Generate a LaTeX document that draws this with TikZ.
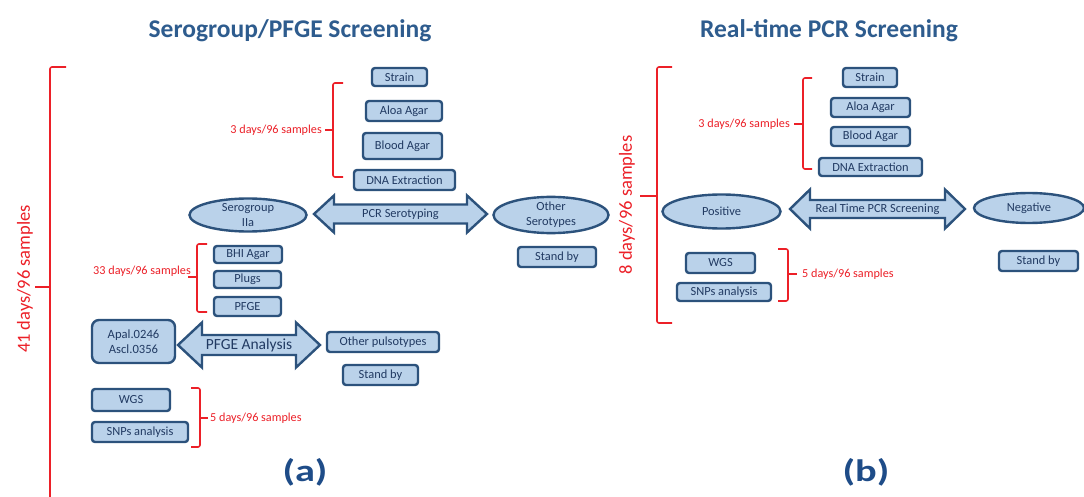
\documentclass[tikz,border=0pt]{standalone}
\usepackage{fontspec}
\setmainfont{Carlito}
\usetikzlibrary{shapes.geometric}
\definecolor{bfill}{RGB}{186,210,234}
\definecolor{bdraw}{RGB}{44,82,124}
\definecolor{btext}{RGB}{33,58,98}
\definecolor{ttl}{RGB}{46,92,142}
\definecolor{lbl}{RGB}{30,76,136}
\definecolor{rd}{RGB}{236,32,40}
\newcommand{\fs}[1]{\fontsize{#1}{#1}\selectfont}
\tikzset{
  box/.style={draw=bdraw, fill=bfill, line width=2.4pt, rounded corners=3pt,
    text=btext, font=\fs{12.4}, inner sep=0pt, align=center},
  oval/.style={ellipse, draw=bdraw, fill=bfill, line width=2.4pt,
    text=btext, font=\fontsize{12.4}{15}\selectfont, inner sep=0pt, align=center},
  darrow/.style={draw=bdraw, fill=bfill, line width=2.4pt, line join=miter},
  atext/.style={text=btext, font=\fs{12.4}, inner sep=0pt},
  brace/.style={draw=rd, line width=1.6pt, rounded corners=2pt},
  rtext/.style={text=rd, font=\fs{12.2}, inner sep=0pt},
  bigtext/.style={text=rd, font=\fs{18.5}, inner sep=0pt, rotate=90},
  title/.style={text=ttl, font=\bfseries\fs{25.5}, inner sep=0pt},
  sub/.style={text=lbl, font=\bfseries\fs{31}, inner sep=0pt, xscale=1.3}
}
\begin{document}
\begin{tikzpicture}[x=1pt,y=-1pt]
\useasboundingbox[fill=white] (0,0) rectangle (1084,497);

% titles
\node[title] (tA) at (290,31) {Serogroup/PFGE Screening};
\node[title] (tB) at (829,31) {Real-time PCR Screening};
\node[sub] (la) at (305,472) {(a)};
\node[sub] (lb) at (866,472) {(b)};

% ---------- panel (a) ----------
\node[box, minimum width=55pt, minimum height=18pt] (strainA) at (399.5,77) {Strain};
\node[box, minimum width=76pt, minimum height=20pt] (aloaA) at (404,111) {Aloa Agar};
\node[box, minimum width=79pt, minimum height=26pt] (bloodA) at (402.5,146) {Blood Agar};
\node[box, minimum width=101pt, minimum height=20pt] (dnaA) at (404.5,180) {DNA Extraction};

\node[oval, minimum width=117pt, minimum height=33pt] (seroA) at (248,215) {Serogroup\\IIa};
\node[oval, minimum width=115pt, minimum height=33pt] (otherA) at (551,215) {Other\\Serotypes};
\draw[darrow] (314,214) -- (334,195.5) -- (334,204.5) -- (467,204.5) -- (467,195.5)
  -- (487,214) -- (467,232.5) -- (467,223.5) -- (334,223.5) -- (334,232.5) -- cycle;
\node[atext] (pcrA) at (400.5,214) {PCR Serotyping};
\node[box, minimum width=78pt, minimum height=20pt] (standA1) at (557,257) {Stand by};

\node[box, minimum width=68pt, minimum height=17pt] (bhiA) at (248,254.5) {BHI Agar};
\node[box, minimum width=67pt, minimum height=17pt] (plugsA) at (247.5,279.5) {Plugs};
\node[box, minimum width=67pt, minimum height=19pt] (pfgeA) at (247.5,306.5) {PFGE};

\node[box, rounded corners=7pt, minimum width=83pt, minimum height=43pt,
  font=\fontsize{12.6}{15}\selectfont] (apalA) at (133.5,341.5) {Apal.0246\\Ascl.0356};
\draw[darrow] (178,345) -- (202,322.5) -- (202,335) -- (296,335) -- (296,322.5)
  -- (320,345) -- (296,367.5) -- (296,355) -- (202,355) -- (202,367.5) -- cycle;
\node[atext, font=\fs{15.5}] (pfgeAn) at (249,345) {PFGE Analysis};
\node[box, minimum width=112pt, minimum height=20pt] (otherPA) at (383,342) {Other pulsotypes};
\node[box, minimum width=75pt, minimum height=20pt] (standA2) at (380.5,375) {Stand by};

\node[box, minimum width=78pt, minimum height=22pt] (wgsA) at (131,400) {WGS};
\node[box, minimum width=96pt, minimum height=20pt] (snpsA) at (140,432) {SNPs analysis};

% brackets (a)
\draw[brace] (66,67) -- (50,67) -- (50,505);
\draw[draw=rd, line width=1.6pt] (50,287) -- (35,287);
\node[bigtext] (d41) at (25,279) {41 days/96 samples};

\draw[brace] (343,83) -- (333,83) -- (333,177) -- (343,177);
\draw[draw=rd, line width=1.6pt] (333,130) -- (325,130);
\node[rtext, anchor=east] (d3A) at (322,130) {3 days/96 samples};

\draw[brace] (207,244) -- (197,244) -- (197,312) -- (207,312);
\draw[draw=rd, line width=1.6pt] (197,277) -- (188,277);
\node[rtext, anchor=east] (d33) at (191,271) {33 days/96 samples};

\draw[brace] (191,388) -- (200,388) -- (200,447) -- (191,447);
\draw[draw=rd, line width=1.6pt] (200,418) -- (208,418);
\node[rtext, anchor=west] (d5A) at (210,418) {5 days/96 samples};

% ---------- panel (b) ----------
\node[box, minimum width=54pt, minimum height=19pt] (strainB) at (870,77.5) {Strain};
\node[box, minimum width=79pt, minimum height=19pt] (aloaB) at (870.5,107.5) {Aloa Agar};
\node[box, minimum width=79pt, minimum height=19pt] (bloodB) at (870.5,136.5) {Blood Agar};
\node[box, minimum width=103pt, minimum height=18pt] (dnaB) at (870.5,167) {DNA Extraction};

\node[oval, minimum width=118pt, minimum height=34pt] (posB) at (721.5,211.5) {Positive};
\node[oval, minimum width=110pt, minimum height=30pt] (negB) at (1029,208) {Negative};
\draw[darrow] (790,209) -- (810,189.5) -- (810,200) -- (945,200) -- (945,189.5)
  -- (965,209) -- (945,228.5) -- (945,218) -- (810,218) -- (810,228.5) -- cycle;
\node[atext] (rtB) at (877.5,209) {Real Time PCR Screening};
\node[box, minimum width=79pt, minimum height=20pt] (standB) at (1038.5,261) {Stand by};

\node[box, minimum width=69pt, minimum height=20pt] (wgsB) at (720.5,263) {WGS};
\node[box, minimum width=94pt, minimum height=18pt] (snpsB) at (724,292) {SNPs analysis};

% brackets (b)
\draw[brace] (672,67) -- (657,67) -- (657,323) -- (672,323);
\draw[draw=rd, line width=1.6pt] (657,196) -- (640,196);
\node[bigtext] (d8) at (627,205) {8 days/96 samples};

\draw[brace] (812,78) -- (803,78) -- (803,169) -- (812,169);
\draw[draw=rd, line width=1.6pt] (803,124) -- (794,124);
\node[rtext, anchor=east] (d3B) at (790,124) {3 days/96 samples};

\draw[brace] (778,249) -- (788,249) -- (788,301) -- (778,301);
\draw[draw=rd, line width=1.6pt] (788,274) -- (797,274);
\node[rtext, anchor=west] (d5B) at (802,274) {5 days/96 samples};
\end{tikzpicture}
\end{document}
